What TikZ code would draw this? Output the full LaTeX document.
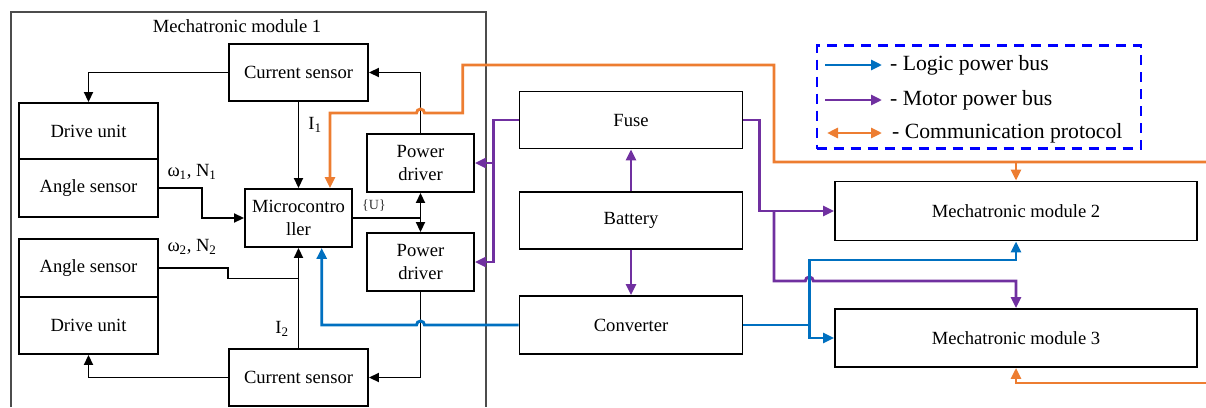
\documentclass[tikz,border=0pt]{standalone}
\usepackage{fontspec}
\setmainfont{Liberation Serif}
\usepackage{tikz}
\usetikzlibrary{arrows.meta,calc}
\definecolor{logiccolor}{RGB}{0,112,192}
\definecolor{motorcolor}{RGB}{112,48,160}
\definecolor{commcolor}{RGB}{237,125,49}
\newcommand{\mainsize}{\fontsize{18.6}{22.5}\selectfont}
\newcommand{\legendsize}{\fontsize{21.7}{26}\selectfont}
\newcommand{\hopleft}{arc[start angle=0,end angle=-180,radius=4]}
\newcommand{\hopright}{arc[start angle=180,end angle=360,radius=4]}
\tikzset{
    blockdiagram/.style={
        x=1pt, y=-1pt,
        line join=miter,
    },
    block/.style={draw, line width=1.9pt, inner sep=0pt, align=center, font=\mainsize},
    plainlabel/.style={inner sep=0pt, font=\mainsize},
    plainline/.style={line width=1.8pt},
    sigline/.style={line width=1.8pt, -{Triangle[length=10pt,width=9pt]}},
    logicbus/.style={line width=2.9pt, draw=logiccolor, -{Triangle[length=11pt,width=10pt]}},
    motorbus/.style={line width=2.9pt, draw=motorcolor, -{Triangle[length=11pt,width=10pt]}},
    commbus/.style={line width=2.9pt, draw=commcolor, -{Triangle[length=11pt,width=10pt]}},
}
\begin{document}
\begin{tikzpicture}
        [blockdiagram]
        \useasboundingbox (0,0) rectangle (1206,407);
        % mechatronic module 1
        \draw[line width=1.4pt, black!70] (11,407) -- (11,12) -- (486,12) -- (486,407);
        \node[plainlabel] (title) at (237,26) {Mechatronic module 1};
        \node[block, minimum width=139, minimum height=57] (cs1) at (298.5,72.5) {Current sensor};
        \node[block, minimum width=139, minimum height=56] (du1) at (88.5,131) {Drive unit};
        \node[block, minimum width=139, minimum height=58] (as1) at (88.5,188) {Angle sensor};
        \node[block, minimum width=107, minimum height=58] (mc) at (298.5,218) {Microcontro\\ller};
        \node[block, minimum width=107, minimum height=58] (pd1) at (420.5,163) {Power\\driver};
        \node[block, minimum width=107, minimum height=58] (pd2) at (420.5,262) {Power\\driver};
        \node[block, minimum width=139, minimum height=58] (as2) at (88.5,268) {Angle sensor};
        \node[block, minimum width=139, minimum height=57] (du2) at (88.5,325.5) {Drive unit};
        \node[block, minimum width=139, minimum height=57] (cs2) at (298.5,377.5) {Current sensor};
        \node[plainlabel] (w1) at (192,172) {ω\textsubscript{1}, N\textsubscript{1}};
        \node[plainlabel] (w2) at (192,247) {ω\textsubscript{2}, N\textsubscript{2}};
        \node[plainlabel] (i1) at (315,125) {I\textsubscript{1}};
        \node[plainlabel] (i2) at (282,329) {I\textsubscript{2}};
        \node[inner sep=0pt, font=\fontsize{14}{16}\selectfont, black!80] (u) at (374,206) {\{U\}};
        % power part
        \node[block, minimum width=223, minimum height=57] (fuse) at (631,120) {Fuse};
        \node[block, minimum width=223, minimum height=57] (bat) at (631,220.5) {Battery};
        \node[block, minimum width=223, minimum height=58] (conv) at (631,325) {Converter};
        \node[block, minimum width=362, minimum height=59] (mm2) at (1016,211) {Mechatronic module 2};
        \node[block, minimum width=362, minimum height=58] (mm3) at (1016,338) {Mechatronic module 3};
        % legend
        \node[draw=blue, dash pattern=on 10pt off 7pt, line width=2.2pt, inner sep=0pt, minimum width=324, minimum height=103] (legend) at (978.7,97) {};
        \node[inner sep=0pt, font=\legendsize, anchor=west] (lg1) at (890,65) {- Logic power bus};
        \node[inner sep=0pt, font=\legendsize, anchor=west] (lg2) at (890,100) {- Motor power bus};
        \node[inner sep=0pt, font=\legendsize, anchor=west] (lg3) at (892,133) {- Communication protocol};
        \draw[logicbus] ($(lg1.west)+(-65,0)$) -- ($(lg1.west)+(-8,0)$);
        \draw[motorbus] ($(lg2.west)+(-65,0)$) -- ($(lg2.west)+(-8,0)$);
        \draw[commbus, {Triangle[length=11pt,width=10pt]}-{Triangle[length=11pt,width=10pt]}] ($(lg3.west)+(-65,0)$) -- ($(lg3.west)+(-10,0)$);
        % signals inside module 1
        \coordinate (mcsplit) at (mc.east -| pd1.south);
        \coordinate (ijoin) at ($(cs2.north)+(0,-69.5)$);
        \draw[sigline] (cs1.west) -| (du1.north);
        \draw[sigline] (cs1.south) -- (mc.north);
        \draw[sigline] (pd1.north) |- (cs1.east);
        \draw[sigline] (as1.east) -- ++(42.7,0) |- (mc.west);
        \draw[plainline] (mc.east) -- (mcsplit);
        \draw[sigline] (mcsplit) -- (pd1.south);
        \draw[sigline] (mcsplit) -- (pd2.north);
        \draw[sigline] (pd2.south) |- (cs2.east);
        \draw[sigline] (cs2.west) -| (du2.south);
        \draw[sigline] (cs2.north) -- (mc.south);
        \draw[plainline] (as2.east) -- ++(69.3,0) |- (ijoin);
        % motor power bus
        \coordinate (mbranch) at (774,211);
        \coordinate (mlow) at (774,281);
        \coordinate (lsplit) at (809.3,325);
        \draw[motorbus] (bat.north) -- (fuse.south);
        \draw[motorbus] (bat.south) -- (conv.north);
        \draw[motorbus] (fuse.west) -- ++(-25,0) |- (pd1.east);
        \draw[motorbus] (fuse.west) -- ++(-25,0) |- (pd2.east);
        \draw[motorbus] (fuse.east) -- ++(16,0) |- (mm2.west);
        \draw[motorbus] (mbranch) -- (mlow) -- ($(lsplit |- mlow)+(-4,0)$) \hopright -| (mm3.north);
        % logic power bus
        \coordinate (mcin) at ($(mc.south)+(23.2,0)$);
        \draw[logicbus] (conv.west) -- ($(pd2.south |- conv.west)+(4,0)$) \hopleft -| (mcin);
        \draw[logicbus] (conv.east) -- (lsplit) -- ++(0,-65) -| (mm2.south);
        \draw[logicbus] (lsplit) |- (mm3.west);
        % communication protocol
        \coordinate (commR) at (1206,162);
        \coordinate (commB) at (1206,383);
        \coordinate (commbend) at (462.7,113);
        \coordinate (commin) at ($(mc.north)+(31.5,0)$);
        \draw[commbus] (commR) -- (774,162) -- (774,65) -- (462.7,65) -- (commbend) -- ($(pd1.north |- commbend)+(4,0)$) \hopleft -| (commin);
        \draw[commbus] (mm2.north |- commR) -- (mm2.north);
        \draw[commbus] (commB) -| (mm3.south);
    \end{tikzpicture}
\end{document}
